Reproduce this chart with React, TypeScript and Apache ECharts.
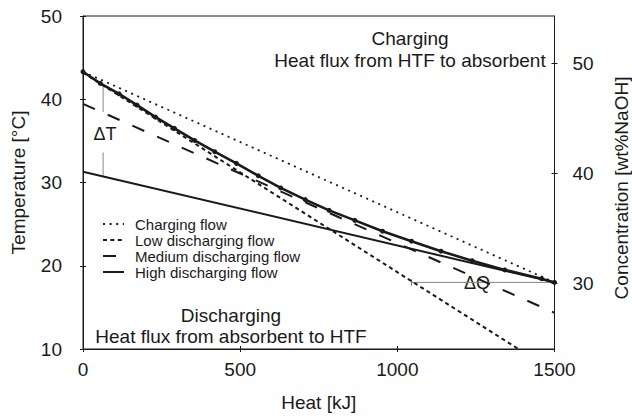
import React, { useEffect, useRef } from "react";
import * as echarts from "echarts";

// Equilibrium curve (thick line with dots)
const curveHeat = [0, 55, 115, 172, 231, 291, 355, 419, 488, 558, 629, 707, 783, 865, 953, 1045, 1139, 1238, 1342, 1459, 1500];
const curveTemp = [43.3, 41.9, 40.65, 39.3, 37.85, 36.5, 35.05, 33.7, 32.3, 30.8, 29.35, 27.95, 26.65, 25.45, 24.15, 22.95, 21.75, 20.6, 19.5, 18.45, 18.0];

// Operating lines
const chargingHeat = [0, 1500];
const chargingTemp = [43.3, 18.0];
const lowHeat = [0, 1385];
const lowTemp = [43.2, 10.0];
const mediumHeat = [0, 1500];
const mediumTemp = [39.45, 14.35];
const highHeat = [0, 1500];
const highTemp = [31.3, 18.0];

// Annotation markers
const deltaT1Heat = [64, 64];
const deltaT1Temp = [41.75, 38.45];
const deltaT2Heat = [64, 64];
const deltaT2Temp = [33.6, 30.75];
const deltaQHeat = [1045, 1500];
const deltaQTemp = [18.0, 18.0];

// Axes
const heatRange = [0, 1500];
const heatStep = 500;
const tempRange = [10, 50];
const tempStep = 10;
const concRange = [24.0, 54.35];
const concTicks = [30, 40, 50];

const legendNames = ["Charging flow", "Low discharging flow", "Medium discharging flow", "High discharging flow"];

const FONT = "'Liberation Sans', Arial, Helvetica, sans-serif";
const INK = "#1a1a1a";

const pairs = (xs: number[], ys: number[]) => xs.map((x, i) => [x, ys[i]]);

export default function App() {
  const ref = useRef<HTMLDivElement>(null);
  useEffect(() => {
    if (!ref.current) return;
    const chart = echarts.init(ref.current, undefined, { renderer: "svg" });
    const axisLine = { show: true, lineStyle: { color: INK, width: 1 } };
    const option: any = {
      animation: false,
      textStyle: { fontFamily: FONT, color: INK },
      grid: { left: 83, right: 77.5, top: 16, bottom: 66, show: true, borderColor: INK, borderWidth: 1 },
      xAxis: [
        {
          type: "value", min: heatRange[0], max: heatRange[1], interval: heatStep, position: "bottom",
          axisLine, axisTick: { show: true, length: 3, lineStyle: { color: INK } },
          axisLabel: { fontSize: 19, color: INK, margin: 11, fontFamily: FONT, formatter: (v: number) => String(v) },
          splitLine: { show: false },
          name: "Heat [kJ]", nameLocation: "middle", nameGap: 44,
          nameTextStyle: { fontSize: 19, color: INK, fontFamily: FONT },
        },
        {
          type: "value", min: heatRange[0], max: heatRange[1], interval: heatStep, position: "bottom",
          axisLine: { show: false }, axisTick: { show: true, inside: true, length: 3, lineStyle: { color: INK } },
          axisLabel: { show: false }, splitLine: { show: false },
        },
      ],
      yAxis: [
        {
          type: "value", min: tempRange[0], max: tempRange[1], interval: tempStep, position: "left",
          axisLine, axisTick: { show: true, length: 3, lineStyle: { color: INK } },
          axisLabel: { fontSize: 19, color: INK, margin: 21, fontFamily: FONT },
          splitLine: { show: false },
          name: "Temperature [°C]", nameLocation: "middle", nameGap: 55,
          nameTextStyle: { fontSize: 19, color: INK, fontFamily: FONT },
        },
        {
          type: "value", min: tempRange[0], max: tempRange[1], interval: tempStep, position: "left",
          axisLine: { show: false }, axisTick: { show: true, inside: true, length: 3, lineStyle: { color: INK } },
          axisLabel: { show: false }, splitLine: { show: false },
        },
        {
          type: "value", min: concRange[0], max: concRange[1], position: "right",
          axisLine, axisTick: { show: true, length: 3, customValues: concTicks, lineStyle: { color: INK } },
          axisLabel: { fontSize: 19, color: INK, margin: 18, customValues: concTicks, fontFamily: FONT },
          splitLine: { show: false },
        },
        {
          type: "value", min: concRange[0], max: concRange[1], position: "right",
          axisLine: { show: false }, axisTick: { show: true, inside: true, length: 3, customValues: concTicks, lineStyle: { color: INK } },
          axisLabel: { show: false }, splitLine: { show: false },
        },
      ],
      legend: {
        show: true, orient: "vertical", left: 97, top: 211, itemWidth: 21, itemHeight: 16, itemGap: 0,
        selectedMode: false, data: legendNames,
        itemStyle: { color: "rgba(0,0,0,0)", borderWidth: 0, opacity: 0 },
        textStyle: { fontSize: 15, lineHeight: 16, color: INK, fontFamily: FONT, padding: [0, 0, 0, 6] },
      },
      series: [
        {
          type: "line", name: legendNames[0], data: pairs(chargingHeat, chargingTemp), symbol: "none",
          lineStyle: { color: INK, width: 1.8, type: [2, 4.6] }, itemStyle: { color: INK }, z: 3,
        },
        {
          type: "line", name: legendNames[1], data: pairs(lowHeat, lowTemp), symbol: "none",
          lineStyle: { color: INK, width: 2, type: [4, 3.4] }, itemStyle: { color: INK }, z: 3,
        },
        {
          type: "line", name: legendNames[2], data: pairs(mediumHeat, mediumTemp), symbol: "none",
          lineStyle: { color: INK, width: 2, type: [13, 14] }, itemStyle: { color: INK }, z: 3,
        },
        {
          type: "line", name: legendNames[3], data: pairs(highHeat, highTemp), symbol: "none",
          lineStyle: { color: INK, width: 2 }, itemStyle: { color: INK }, z: 3,
        },
        {
          type: "line", name: "Equilibrium", data: pairs(curveHeat, curveTemp), symbol: "circle", symbolSize: 5,
          showSymbol: true, lineStyle: { color: INK, width: 2.6 }, itemStyle: { color: INK }, z: 5,
        },
        {
          type: "line", name: "dT1", data: pairs(deltaT1Heat, deltaT1Temp), symbol: "none",
          lineStyle: { color: "#888", width: 1 }, z: 2,
        },
        {
          type: "line", name: "dT2", data: pairs(deltaT2Heat, deltaT2Temp), symbol: "none",
          lineStyle: { color: "#888", width: 1 }, z: 2,
        },
        {
          type: "line", name: "dQ",
          data: pairs(deltaQHeat, deltaQTemp).map((p, i) =>
            i === 0 ? { value: p, symbol: "rect", symbolSize: [1, 6] } : { value: p, symbol: "none" }
          ),
          showSymbol: true, lineStyle: { color: "#888", width: 1 }, itemStyle: { color: "#666" }, z: 2,
        },
      ],
      graphic: [
        { type: "text", x: 621, y: 188, rotation: Math.PI / 2, style: { text: "Concentration [wt%NaOH]", fontSize: 19, fontFamily: FONT, fill: INK, align: "center", verticalAlign: "middle" } },
        { type: "text", x: 410, y: 38, style: { text: "Charging", fontSize: 19, fontFamily: FONT, fill: INK, align: "center", verticalAlign: "middle" } },
        { type: "text", x: 410, y: 60, style: { text: "Heat flux from HTF to absorbent", fontSize: 19, fontFamily: FONT, fill: INK, align: "center", verticalAlign: "middle" } },
        { type: "text", x: 231, y: 315, style: { text: "Discharging", fontSize: 19, fontFamily: FONT, fill: INK, align: "center", verticalAlign: "middle" } },
        { type: "text", x: 231, y: 336, style: { text: "Heat flux from absorbent to HTF", fontSize: 19, fontFamily: FONT, fill: INK, align: "center", verticalAlign: "middle" } },
        { type: "text", x: 105, y: 134, style: { text: "ΔT", fontSize: 18, fontFamily: FONT, fill: INK, align: "center", verticalAlign: "middle" } },
        { type: "text", x: 477, y: 283, style: { text: "ΔQ", fontSize: 18, fontFamily: FONT, fill: INK, align: "center", verticalAlign: "middle" } },
      ],
    };
    chart.setOption(option);
    return () => chart.dispose();
  }, []);
  return (
    <div
      ref={ref}
      style={{ position: "absolute", left: 0, top: 0, width: 632, height: 417, background: "#fff" }}
    />
  );
}
